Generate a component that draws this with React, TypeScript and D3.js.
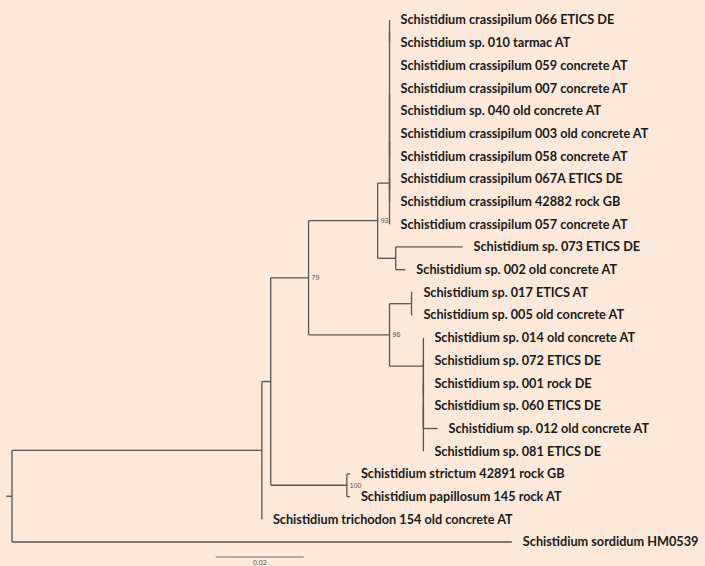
import React, { useEffect, useRef } from 'react';
import * as d3 from 'd3';

// leaf labels, top to bottom
const leafNames = [
  'Schistidium crassipilum 066 ETICS DE',
  'Schistidium sp. 010 tarmac AT',
  'Schistidium crassipilum 059 concrete AT',
  'Schistidium crassipilum 007 concrete AT',
  'Schistidium sp. 040 old concrete AT',
  'Schistidium crassipilum 003 old concrete AT',
  'Schistidium crassipilum 058 concrete AT',
  'Schistidium crassipilum 067A ETICS DE',
  'Schistidium crassipilum 42882 rock GB',
  'Schistidium crassipilum 057 concrete AT',
  'Schistidium sp. 073 ETICS DE',
  'Schistidium sp. 002 old concrete AT',
  'Schistidium sp. 017 ETICS AT',
  'Schistidium sp. 005 old concrete AT',
  'Schistidium sp. 014 old concrete AT',
  'Schistidium sp. 072 ETICS DE',
  'Schistidium sp. 001 rock DE',
  'Schistidium sp. 060 ETICS DE',
  'Schistidium sp. 012 old concrete AT',
  'Schistidium sp. 081 ETICS DE',
  'Schistidium strictum 42891 rock GB',
  'Schistidium papillosum 145 rock AT',
  'Schistidium trichodon 154 old concrete AT',
  'Schistidium sordidum HM0539',
];

// topology with branch lengths, leaves are indices into leafNames, internal labels = bootstrap
const crassipilum = '((((0:0,1:0):0,2:0,3:0,4:0,5:0,6:0):0,(7:0,8:0):0):0,9:0):0.0027';
const clade073 = '(10:0.0152,11:0.0022):0.0041';
const clade017 = '(12:0.0002,13:0.0002):0.005';
const clade014 = '(14:0,(15:0,((16:0,17:0,18:0.0032):0,19:0):0):0):0.0077';
const cladeStrictum = '(20:0.0007,21:0.0007)100:0.0173';
const newick =
  `(((((${crassipilum},${clade073})93:0.0157,(${clade017},${clade014})96:0.0184)79:0.0086,` +
  `${cladeStrictum}):0.002,22:0):0.0568,23:0.1136);`;

const scaleBarValue = 0.02;
const scaleBarLabel = '0.02';

interface TNode { name: string; length: number; children: TNode[]; }

function parseNewick(s: string): TNode {
  let i = 0;
  const readNode = (): TNode => {
    const node: TNode = { name: '', length: 0, children: [] };
    if (s[i] === '(') {
      i++;
      node.children.push(readNode());
      while (s[i] === ',') { i++; node.children.push(readNode()); }
      i++; // ')'
    }
    let name = '';
    while (i < s.length && !':,();'.includes(s[i])) name += s[i++];
    node.name = name;
    if (s[i] === ':') {
      i++;
      let len = '';
      while (i < s.length && !',();'.includes(s[i])) len += s[i++];
      node.length = +len;
    }
    return node;
  };
  return readNode();
}

const W = 705;
const H = 566;

const App: React.FC = () => {
  const svgRef = useRef<SVGSVGElement>(null);

  useEffect(() => {
    if (!svgRef.current) return;
    const svg = d3.select(svgRef.current);
    svg.selectAll('*').remove();

    const root = d3.hierarchy(parseNewick(newick), d => d.children.length ? d.children : null);

    const x = d3.scaleLinear().domain([0, scaleBarValue]).range([12, 100]);
    const y = d3.scaleLinear().domain([0, leafNames.length - 1]).range([20, 542]);

    const pos = new Map<any, { d: number; y: number }>();
    root.eachBefore(n => {
      const pd = n.parent ? pos.get(n.parent)!.d : 0;
      pos.set(n, { d: pd + n.data.length, y: 0 });
    });
    root.eachAfter(n => {
      const p = pos.get(n)!;
      if (n.children) {
        const first = pos.get(n.children[0])!.y;
        const last = pos.get(n.children[n.children.length - 1])!.y;
        p.y = (first + last) / 2;
      } else {
        p.y = y(+n.data.name);
      }
    });

    svg.append('rect').attr('width', W).attr('height', H).attr('fill', '#fde9d9');

    const lineColor = '#555';
    const g = svg.append('g').attr('stroke', lineColor).attr('stroke-width', 1.3).attr('fill', 'none');

    // root stub
    const rp = pos.get(root)!;
    g.append('line').attr('x1', x(0) - 6).attr('x2', x(0)).attr('y1', rp.y).attr('y2', rp.y);

    root.descendants().forEach(n => {
      const p = pos.get(n)!;
      if (n.children) {
        const first = pos.get(n.children[0])!.y;
        const last = pos.get(n.children[n.children.length - 1])!.y;
        g.append('line').attr('x1', x(p.d)).attr('x2', x(p.d)).attr('y1', first).attr('y2', last);
      }
      if (n.parent) {
        const pp = pos.get(n.parent)!;
        if (p.d > pp.d) {
          g.append('line').attr('x1', x(pp.d)).attr('x2', x(p.d)).attr('y1', p.y).attr('y2', p.y);
        }
      }
    });

    // leaf labels
    svg.append('g')
      .selectAll('text')
      .data(root.leaves())
      .join('text')
      .attr('x', n => x(pos.get(n)!.d) + 11)
      .attr('y', n => pos.get(n)!.y)
      .attr('dy', '0.35em')
      .attr('font-family', 'Lato, "Open Sans", sans-serif')
      .attr('font-weight', 'bold')
      .attr('font-size', 12.7)
      .attr('fill', '#1a1a1a')
      .text(n => leafNames[+n.data.name]);

    // bootstrap values
    svg.append('g')
      .selectAll('text')
      .data(root.descendants().filter(n => n.children && n.data.name))
      .join('text')
      .attr('x', n => x(pos.get(n)!.d) + 3)
      .attr('y', n => pos.get(n)!.y)
      .attr('dy', '0.35em')
      .attr('font-family', '"Liberation Sans", sans-serif')
      .attr('font-size', 7)
      .attr('fill', '#555')
      .text(n => n.data.name);

    // scale bar
    const sx0 = x(0.0463);
    svg.append('line')
      .attr('x1', sx0).attr('x2', sx0 + x(scaleBarValue) - x(0))
      .attr('y1', 557).attr('y2', 557)
      .attr('stroke', '#999').attr('stroke-width', 1.6);
    svg.append('text')
      .attr('x', sx0 + (x(scaleBarValue) - x(0)) / 2)
      .attr('y', 565)
      .attr('text-anchor', 'middle')
      .attr('font-family', '"Liberation Sans", sans-serif')
      .attr('font-size', 7)
      .attr('fill', '#555')
      .text(scaleBarLabel);
  }, []);

  return (
    <svg
      ref={svgRef}
      width={W}
      height={H}
      style={{ position: 'absolute', left: 0, top: 0, display: 'block' }}
    />
  );
};

export default App;
